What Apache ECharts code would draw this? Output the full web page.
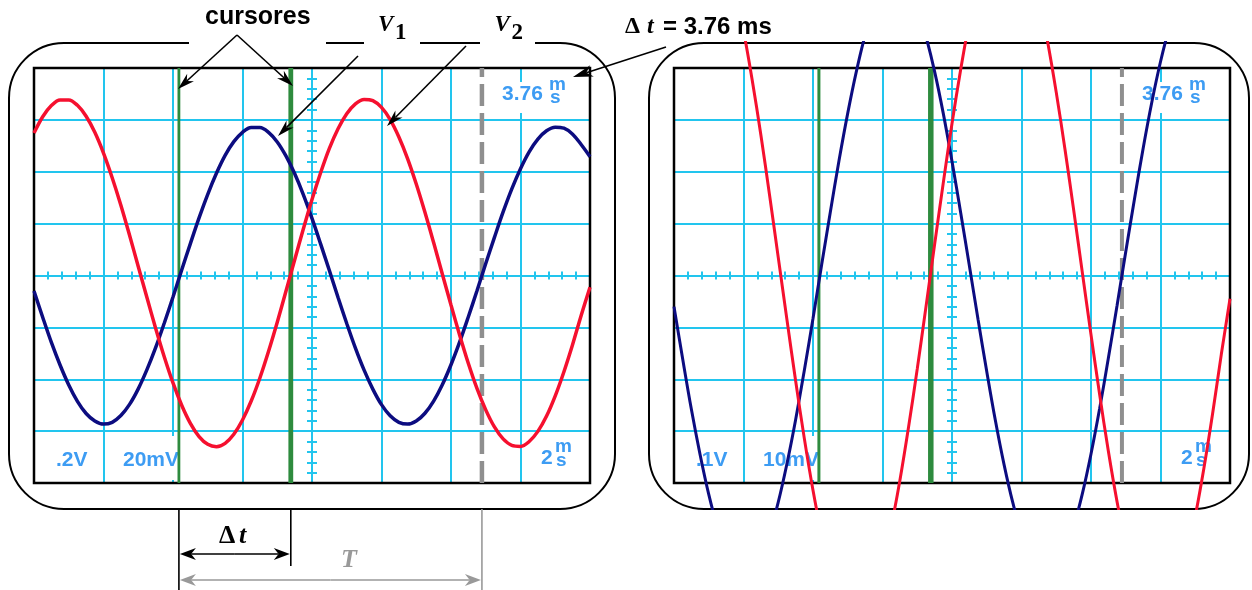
<!DOCTYPE html>
<html>
<head>
<meta charset="utf-8">
<script src="https://cdn.jsdelivr.net/npm/echarts@6/dist/echarts.min.js"></script>
<style>
  html, body { margin: 0; padding: 0; background: #fff; }
  #scope { width: 1252px; height: 590px; }
</style>
</head>
<body>
<div id="scope"></div>
<script>
// time relative to the screen centre (ms), one sample every 0.25 ms
const timeMs = [-8, -7.75, -7.5, -7.25, -7, -6.75, -6.5, -6.25, -6, -5.75, -5.5, -5.25, -5, -4.75,
  -4.5, -4.25, -4, -3.75, -3.5, -3.25, -3, -2.75, -2.5, -2.25, -2, -1.75, -1.5, -1.25, -1, -0.75,
  -0.5, -0.25, 0, 0.25, 0.5, 0.75, 1, 1.25, 1.5, 1.75, 2, 2.25, 2.5, 2.75, 3, 3.25, 3.5, 3.75, 4,
  4.25, 4.5, 4.75, 5, 5.25, 5.5, 5.75, 6, 6.25, 6.5, 6.75, 7, 7.25, 7.5, 7.75, 8];
// V1 (navy trace), volts
const v1Volts = [-0.060, -0.161, -0.258, -0.345, -0.422, -0.485, -0.532, -0.561, -0.573, -0.566,
  -0.540, -0.497, -0.437, -0.363, -0.278, -0.183, -0.083, 0.021, 0.123, 0.222, 0.313, 0.394,
  0.463, 0.516, 0.552, 0.571, 0.571, 0.552, 0.515, 0.461, 0.393, 0.312, 0.220, 0.121, 0.019,
  -0.085, -0.185, -0.280, -0.365, -0.438, -0.498, -0.541, -0.566, -0.573, -0.561, -0.531, -0.484,
  -0.421, -0.344, -0.256, -0.159, -0.058, 0.046, 0.147, 0.245, 0.334, 0.412, 0.477, 0.526,
  0.558, 0.572, 0.568, 0.545, 0.504, 0.458];
// V2 (red trace), millivolts
const v2MilliVolts = [54.9, 61.2, 65.5, 67.7, 67.7, 65.6, 61.4, 55.2, 47.2, 37.7, 27.1, 15.5, 3.5,
  -8.5, -20.3, -31.4, -41.4, -50.0, -57.0, -62.1, -65.1, -66.0, -64.7, -61.2, -55.7, -48.4, -39.5,
  -29.2, -18.0, -6.1, 6.0, 17.9, 29.3, 39.7, 49.0, 56.6, 62.4, 66.2, 67.9, 67.4, 64.8, 60.1, 53.4,
  45.1, 35.3, 24.4, 12.7, 0.6, -11.4, -23.0, -33.9, -43.6, -51.8, -58.4, -63.0, -65.5, -65.9,
  -64.0, -60.1, -54.2, -46.4, -37.1, -26.6, -15.2, -4.5];
const cursorMs = [-3.83, -0.61];
const periodEndMs = 4.89;
const msPerDiv = 2;
const voltsPerDiv = [0.2, 0.1];
const milliVoltsPerDiv = [20, 10];
const readoutV1 = ['.2V', '.1V'];
const readoutV2 = ['20mV', '10mV'];
const readoutTime = ['2', '2'];
const readoutCursor = ['3.76', '3.76'];

const CYAN = '#22c5ee';
const NAVY = '#0c0c80';
const RED = '#f5102f';
const GREEN = '#2e8b3e';
const GREY = '#8f8f8f';
const BLUE_TXT = '#3d9cf3';
const SANS = '"Liberation Sans", Arial, sans-serif';
const SERIF = '"Liberation Serif", "Times New Roman", serif';

const screens = [
  {left: 34, top: 68, width: 556, height: 415},
  {left: 674, top: 68, width: 556, height: 415}
];
// right screen: traces run past the graticule up to the bezel
const overlay = {left: 674, top: 42.5, width: 556, height: 466};
const overlayDivs = (overlay.height / 2) / (screens[1].height / 8);

const cyanLine = {color: CYAN, width: 2};

function xAxes(s) {
  const base = {
    gridIndex: s, type: 'value', min: -4 * msPerDiv, max: 4 * msPerDiv, interval: msPerDiv,
    axisLine: {onZero: true, lineStyle: cyanLine},
    axisTick: {show: true, length: 4, lineStyle: cyanLine},
    minorTick: {show: true, splitNumber: 5, length: 4, lineStyle: cyanLine},
    axisLabel: {show: false},
    minorSplitLine: {show: false}
  };
  return [
    Object.assign({}, base, {position: 'bottom',
      splitLine: {show: true, showMinLine: false, showMaxLine: false, lineStyle: cyanLine}}),
    Object.assign({}, base, {position: 'top', splitLine: {show: false}})
  ];
}

function yAxes(s) {
  const tick = {
    type: 'value', gridIndex: s,
    axisLine: {onZero: true, lineStyle: cyanLine},
    axisTick: {show: true, length: 5, lineStyle: cyanLine},
    minorTick: {show: true, splitNumber: 5, length: 5, lineStyle: cyanLine},
    axisLabel: {show: false},
    minorSplitLine: {show: false}
  };
  return [
    Object.assign({}, tick, {position: 'left', min: -4 * voltsPerDiv[s], max: 4 * voltsPerDiv[s],
      interval: voltsPerDiv[s],
      splitLine: {show: true, showMinLine: false, showMaxLine: false, lineStyle: cyanLine}}),
    Object.assign({}, tick, {position: 'right', min: -4 * milliVoltsPerDiv[s],
      max: 4 * milliVoltsPerDiv[s], interval: milliVoltsPerDiv[s], splitLine: {show: false}})
  ];
}

function trace(xi, yi, values, color, width) {
  return {
    type: 'line', xAxisIndex: xi, yAxisIndex: yi, silent: true, z: 4,
    data: timeMs.map((t, i) => [t, values[i]]),
    smooth: 0.35, showSymbol: false, lineStyle: {color: color, width: width}
  };
}

function marker(xi, yi, t, vpd, style) {
  return {
    type: 'line', xAxisIndex: xi, yAxisIndex: yi, silent: true, z: 3,
    data: [[t, -4 * vpd], [t, 4 * vpd]], showSymbol: false, lineStyle: style
  };
}

const series = [];
// left screen
cursorMs.forEach((c, i) => series.push(marker(0, 0, c, voltsPerDiv[0],
  {color: GREEN, width: i === 0 ? 2.8 : 4.8})));
series.push(marker(0, 0, periodEndMs, voltsPerDiv[0], {color: GREY, width: 4.5, type: [22, 7]}));
series.push(trace(0, 0, v1Volts, NAVY, 3.5));
series.push(trace(0, 1, v2MilliVolts, RED, 3.5));
// right screen
cursorMs.forEach((c, i) => series.push(marker(2, 2, c, voltsPerDiv[1],
  {color: GREEN, width: i === 0 ? 3 : 5.5})));
series.push(marker(2, 2, periodEndMs, voltsPerDiv[1], {color: GREY, width: 4, type: [22, 7]}));
series.push(trace(4, 4, v1Volts, NAVY, 3));
series.push(trace(4, 5, v2MilliVolts, RED, 3));

const option = {
  animation: false,
  grid: [
    Object.assign({outerBoundsMode: 'none'}, screens[0]),
    Object.assign({outerBoundsMode: 'none'}, screens[1]),
    Object.assign({outerBoundsMode: 'none'}, overlay)
  ],
  xAxis: xAxes(0).concat(xAxes(1), [{gridIndex: 2, type: 'value', min: -4 * msPerDiv,
    max: 4 * msPerDiv, show: false}]),
  yAxis: yAxes(0).concat(yAxes(1), [
    {gridIndex: 2, type: 'value', show: false, min: -overlayDivs * voltsPerDiv[1],
      max: overlayDivs * voltsPerDiv[1]},
    {gridIndex: 2, type: 'value', show: false, min: -overlayDivs * milliVoltsPerDiv[1],
      max: overlayDivs * milliVoltsPerDiv[1]}
  ]),
  series: series
};

const chart = echarts.init(document.getElementById('scope'));
chart.setOption(option);

// ---------- bezels, readouts and annotations ----------
function txt(text, x, y, font, fill, z) {
  return {type: 'text', z: z || 5, silent: true,
    style: {text: text, x: x, y: y, font: font, fill: fill || '#000', textVerticalAlign: 'middle'}};
}
function seg(x1, y1, x2, y2, color, width, z) {
  return {type: 'line', z: z || 5, silent: true, shape: {x1: x1, y1: y1, x2: x2, y2: y2},
    style: {stroke: color, lineWidth: width}};
}
function arrow(x1, y1, x2, y2, color, len, half) {
  const L = Math.hypot(x2 - x1, y2 - y1);
  const ux = (x2 - x1) / L, uy = (y2 - y1) / L;
  const bx = x2 - ux * len, by = y2 - uy * len;
  const nx = x2 - ux * len * 0.7, ny = y2 - uy * len * 0.7;
  return [
    seg(x1, y1, nx, ny, color, 1.6),
    {type: 'polygon', z: 5, silent: true,
      shape: {points: [[x2, y2], [bx - uy * half, by + ux * half], [nx, ny], [bx + uy * half, by - ux * half]]},
      style: {fill: color}}
  ];
}

const g = [];
// bezels
g.push({type: 'rect', z: 0, silent: true, shape: {x: 9, y: 43, width: 606, height: 466, r: 55},
  style: {fill: 'none', stroke: '#000', lineWidth: 2}});
g.push({type: 'rect', z: 0, silent: true, shape: {x: 649, y: 43, width: 600, height: 466, r: 55},
  style: {fill: 'none', stroke: '#000', lineWidth: 2}});
[[189, 137], [364, 56], [480, 55]].forEach(gp => g.push({type: 'rect', z: 1, silent: true,
  shape: {x: gp[0], y: 40, width: gp[1], height: 6}, style: {fill: '#fff'}}));
// screen borders
screens.forEach(sc => g.push({type: 'rect', z: 1, silent: true,
  shape: {x: sc.left, y: sc.top, width: sc.width, height: sc.height},
  style: {fill: 'none', stroke: '#000', lineWidth: 2.5}}));

// readouts
const B21 = 'bold 21px ' + SANS, B19 = 'bold 19px ' + SANS;
screens.forEach((sc, s) => {
  const dx = sc.left - screens[0].left;
  g.push({type: 'rect', z: 1, silent: true, shape: {x: 498 + dx, y: 82, width: 72, height: 31},
    style: {fill: '#fff'}});
  g.push({type: 'rect', z: 1, silent: true, shape: {x: 119 + dx, y: 436, width: 60, height: 44},
    style: {fill: '#fff'}});
  g.push(txt(readoutCursor[s], 502 + dx, 94, B21, BLUE_TXT, 1));
  g.push(txt('m', 549 + dx, 85, B19, BLUE_TXT, 1));
  g.push(txt('s', 550 + dx, 97.5, B19, BLUE_TXT, 1));
  g.push(txt(readoutV1[s], 56 + dx, 460, B21, BLUE_TXT, 1));
  g.push(txt(readoutV2[s], 123 + dx, 460, B21, BLUE_TXT, 1));
  g.push(txt(readoutTime[s], 541 + dx, 458, B21, BLUE_TXT, 1));
  g.push(txt('m', 555 + dx, 446.5, B19, BLUE_TXT, 1));
  g.push(txt('s', 556 + dx, 461, B19, BLUE_TXT, 1));
});

// top annotations
g.push(txt('cursores', 205, 17.5, 'bold 25px ' + SANS));
g.push(...arrow(237, 35, 178, 89, '#000', 17, 5));
g.push(...arrow(237, 35, 293, 86, '#000', 17, 5));
g.push(txt('V', 378, 25.5, 'italic bold 23px ' + SERIF));
g.push(txt('1', 395, 33, 'bold 23px ' + SERIF));
g.push(...arrow(358, 56, 278, 136, '#000', 17, 5));
g.push(txt('V', 494.5, 25.5, 'italic bold 23px ' + SERIF));
g.push(txt('2', 511.5, 33, 'bold 23px ' + SERIF));
g.push(...arrow(466, 46, 387, 126, '#000', 17, 5));
g.push(txt('\u0394', 625, 27, 'bold 24px ' + SERIF));
g.push(txt('t', 647, 27, 'italic bold 24px ' + SERIF));
g.push(txt('= 3.76 ms', 663, 27, 'bold 24px ' + SANS));
g.push(...arrow(666, 47, 573, 77, '#000', 20, 6));

// bottom annotations, placed from the cursor positions on the left screen
const px = t => chart.convertToPixel({gridIndex: 0}, [t, 0])[0];
const xa = px(cursorMs[0]), xb = px(cursorMs[1]), xT = px(periodEndMs);
g.push(seg(xa, 509, xa, 590, '#000', 1.6));
g.push(seg(xb, 509, xb, 566, '#000', 1.6));
g.push(seg(xT, 509, xT, 590, '#999', 1.6));
const mid1 = (xa + xb) / 2, mid2 = (xa + xT) / 2;
g.push(...arrow(mid1, 554, xa + 1, 554, '#000', 16, 6));
g.push(...arrow(mid1, 554, xb - 1, 554, '#000', 16, 6));
g.push(...arrow(mid2, 580, xa + 1, 580, '#999', 16, 6));
g.push(...arrow(mid2, 580, xT - 1, 580, '#999', 16, 6));
g.push(txt('\u0394', 219, 536.5, 'bold 26px ' + SERIF));
g.push(txt('t', 239, 536.5, 'italic bold 26px ' + SERIF));
g.push(txt('T', 341, 560.5, 'italic bold 26px ' + SERIF, '#999'));

chart.setOption({graphic: g});
</script>
</body>
</html>
